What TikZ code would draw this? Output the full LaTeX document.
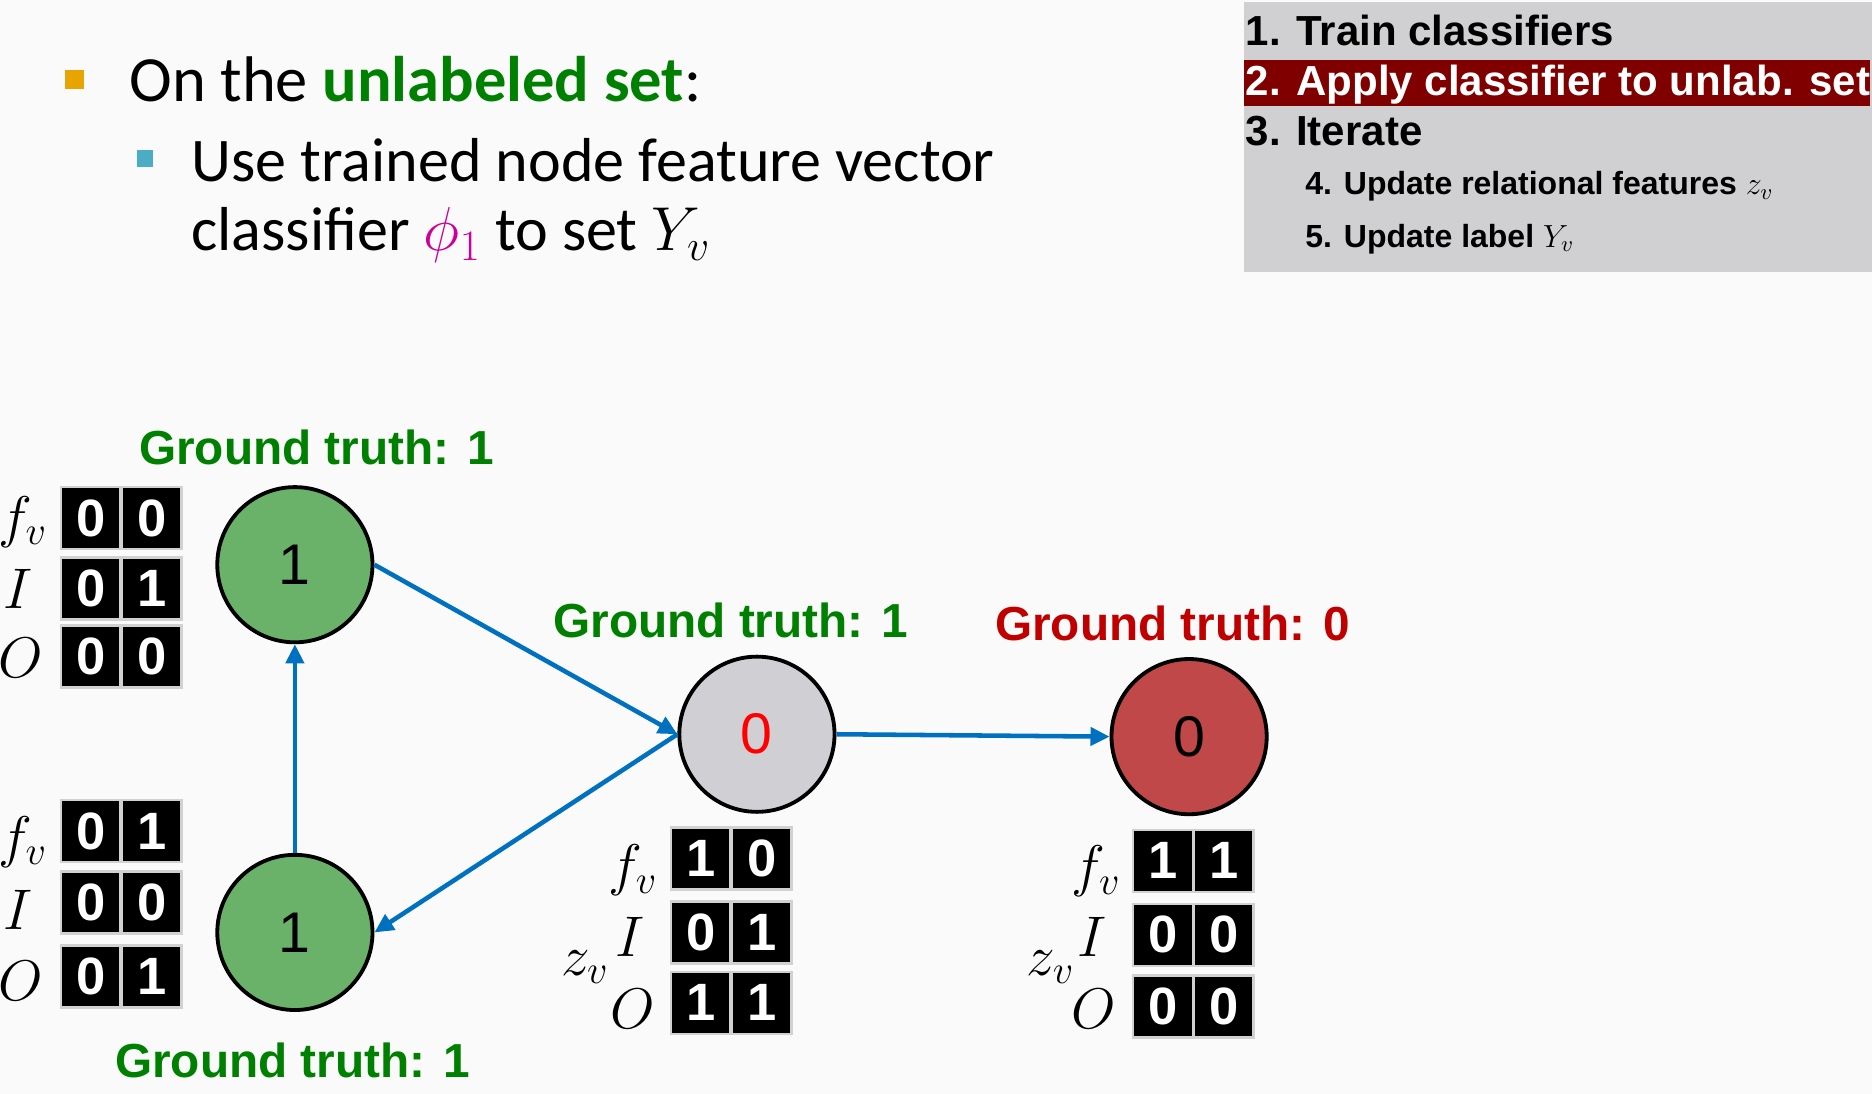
\documentclass[tikz,border=0pt]{standalone}
\usepackage{fix-cm}
\usepackage{fontspec}
\setmainfont{Carlito}
\newfontfamily\arialfont{Liberation Sans}
\usetikzlibrary{arrows.meta}
\definecolor{slidebg}{RGB}{250,250,250}
\definecolor{nodegreen}{RGB}{106,178,106}
\definecolor{nodegray}{RGB}{208,208,212}
\definecolor{nodered}{RGB}{192,72,72}
\definecolor{edgeblue}{RGB}{0,112,192}
\definecolor{truthgreen}{RGB}{0,128,0}
\definecolor{truthred}{RGB}{192,0,0}
\definecolor{stepgray}{RGB}{208,208,210}
\definecolor{stepred}{RGB}{128,0,0}
\definecolor{bulletorange}{RGB}{232,164,0}
\definecolor{bulletcyan}{RGB}{75,172,198}
\definecolor{phimagenta}{RGB}{204,0,153}
\tikzset{
  vertex/.style={circle, draw=black, line width=1.6pt, minimum size=65pt,
    inner sep=0pt, font=\arialfont\fontsize{24}{24}\selectfont},
  cell/.style={fill=black, draw=black!18, line width=1pt, minimum width=25pt,
    minimum height=26pt, inner sep=0pt, text=white,
    font=\arialfont\bfseries\fontsize{22}{22}\selectfont},
  veclabel/.style={inner sep=0pt, font=\fontsize{24}{24}\selectfont},
  truth/.style={font=\arialfont\bfseries\fontsize{20}{20}\selectfont},
  edge/.style={edgeblue, line width=1.9pt, -{Triangle[length=8pt,width=7.5pt]}},
  stepline/.style={anchor=base west, inner sep=0pt,
    font=\arialfont\bfseries\fontsize{17.6}{20}\selectfont},
  substep/.style={anchor=base west, inner sep=0pt,
    font=\arialfont\bfseries\fontsize{13.4}{16}\selectfont},
  bullettext/.style={anchor=base west, inner sep=0pt},
}
\begin{document}
\begin{tikzpicture}[x=0.5pt, y=-0.5pt]
  \fill[slidebg] (0,0) rectangle (1568,916);
  \useasboundingbox (0,0) rectangle (1568,916);

  % bullets
  \node[fill=bulletorange, minimum size=8pt, inner sep=0pt] (b1) at (62.5,66.5) {};
  \node[bullettext, font=\fontsize{27}{33}\selectfont] (l1) at (108,85)
    {On the \textbf{\color{truthgreen}unlabeled set}:};
  \node[fill=bulletcyan, minimum size=7pt, inner sep=0pt] (b2) at (121.5,133) {};
  \node[bullettext, font=\fontsize{26}{29}\selectfont] (l2) at (160,152)
    {Use trained node feature vector};
  \node[bullettext, font=\fontsize{26}{29}\selectfont] (l3) at (160,210)
    {classifier $\color{phimagenta}\phi_1$ to set $Y_v$};

  % steps
  \fill[stepgray] (1042,2) rectangle (1568,228);
  \fill[stepred] (1042,50) rectangle (1566,89);
  \node[stepline] (s1) at (1043,38) {1. Train classifiers};
  \node[stepline, text=white] (s2) at (1043,80) {2. Apply classifier to unlab. set};
  \node[stepline] (s3) at (1043,122) {3. Iterate};
  \node[substep] (s4) at (1093,163) {4. Update relational features \textmd{$z_v$}};
  \node[substep] (s5) at (1093,207) {5. Update label \textmd{$Y_v$}};

  % graph
  \node[vertex, fill=nodegreen] (tl) at (247,473) {1};
  \node[vertex, fill=nodegreen] (bl) at (247,781) {1};
  \node[vertex, fill=nodegray, text=red] (mid) at (634,615) {0};
  \node[vertex, fill=nodered] (rt) at (996,617) {0};

  \node[truth, text=truthgreen] (gtl) at (265,375) {Ground truth: 1};
  \node[truth, text=truthgreen] (gbl) at (245,888) {Ground truth: 1};
  \node[truth, text=truthgreen] (gmid) at (612,520) {Ground truth: 1};
  \node[truth, text=truthred] (grt) at (982,522) {Ground truth: 0};

  \begin{scope}[edge]
    \draw (bl.north) -- (tl.south);
    \draw (tl.east) -- (mid.west);
    \draw (mid.west) -- (bl.east);
    \draw (mid.east) -- (rt.west);
  \end{scope}

  % feature vectors
  \foreach \y/\a/\b [count=\i] in {434/0/0,493/0/1,550/0/0} {
    \node[cell] (tl-\i-1) at (76,\y) {\a};
    \node[cell] (tl-\i-2) at (127,\y) {\b};
  }
  \foreach \y/\a/\b [count=\i] in {696/0/1,756/0/0,818/0/1} {
    \node[cell] (bl-\i-1) at (76,\y) {\a};
    \node[cell] (bl-\i-2) at (127,\y) {\b};
  }
  \foreach \y/\a/\b [count=\i] in {719/1/0,781/0/1,840/1/1} {
    \node[cell] (mid-\i-1) at (587,\y) {\a};
    \node[cell] (mid-\i-2) at (638,\y) {\b};
  }
  \foreach \y/\a/\b [count=\i] in {721/1/1,783/0/0,843/0/0} {
    \node[cell] (rt-\i-1) at (974,\y) {\a};
    \node[cell] (rt-\i-2) at (1025,\y) {\b};
  }

  \node[veclabel] (tlf) at (19,437) {$f_v$};
  \node[veclabel] (tli) at (15,493) {$I$};
  \node[veclabel] (tlo) at (17,551) {$O$};
  \node[veclabel] (blf) at (19,705) {$f_v$};
  \node[veclabel] (bli) at (15,762) {$I$};
  \node[veclabel] (blo) at (17,822) {$O$};
  \node[veclabel] (midf) at (530,729) {$f_v$};
  \node[veclabel] (midi) at (528,785) {$I$};
  \node[veclabel] (mido) at (530,845) {$O$};
  \node[veclabel] (midz) at (490,810) {$z_v$};
  \node[veclabel] (rtf) at (918,730) {$f_v$};
  \node[veclabel] (rti) at (915,785) {$I$};
  \node[veclabel] (rto) at (916,845) {$O$};
  \node[veclabel] (rtz) at (880,810) {$z_v$};
\end{tikzpicture}
\end{document}
